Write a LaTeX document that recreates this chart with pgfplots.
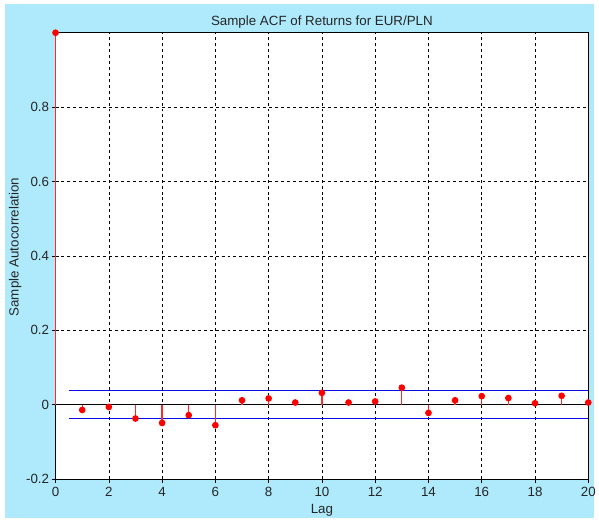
\documentclass[border=0pt]{standalone}
\usepackage{fontspec}
\setmainfont{Liberation Sans}
\usepackage{pgfplots}
\pgfplotsset{compat=1.18}
\definecolor{figbg}{RGB}{174,234,251}
\definecolor{boundblue}{RGB}{10,10,230}
\definecolor{ticktext}{RGB}{38,38,38}
\definecolor{stemred}{RGB}{255,40,40}

\pgfplotstableread{
lag acf
0 1.000
1 -0.014
2 -0.006
3 -0.037
4 -0.049
5 -0.028
6 -0.055
7 0.012
8 0.017
9 0.006
10 0.032
11 0.006
12 0.009
13 0.046
14 -0.022
15 0.012
16 0.023
17 0.018
18 0.004
19 0.024
20 0.006
}\acfdata

\pgfplotsset{acfbox/.style={
  at={(0,0)}, anchor=south west,
  scale only axis,
  width=537bp, height=450bp,
  xmin=0, xmax=20, ymin=-0.2, ymax=1,
}}

\begin{document}
\begin{tikzpicture}[x=1bp,y=1bp]
% figure background: white frame strip left/top, cyan figure colour
\fill[white] (-56,-39) rectangle (543,483);
\fill[figbg] (-51,-39) rectangle (543,479);
\begin{axis}[
  acfbox,
  xtick={0,2,...,20},
  ytick={-0.2,0,0.2,0.4,0.6,0.8},
  yticklabels={-0.2,0,0.2,0.4,0.6,0.8},
  /pgf/number format/assume math mode=true,
  tick label style={font=\fontsize{13.5}{15}\selectfont, text=ticktext},
  xticklabel style={yshift=-1bp},
  yticklabel style={xshift=1bp},
  grid=major,
  major grid style={black, line width=0.6pt, dash pattern=on 3pt off 3pt},
  axis line style={black, line width=0.8pt},
  tick style={black, line width=0.6pt},
  tick align=outside,
  major tick length=4bp,
  xtick pos=bottom, ytick pos=left,
  axis background/.style={fill=white},
  title={Sample ACF of Returns for EUR/PLN},
  title style={font=\fontsize{13.5}{15}\selectfont, text=ticktext, yshift=-5bp},
  xlabel={Lag},
  ylabel={Sample Autocorrelation},
  label style={font=\fontsize{13.5}{15}\selectfont, text=ticktext},
  ylabel style={yshift=-2bp, xshift=9bp},
]
  \addplot[black, line width=0.8pt] coordinates {(0,0) (20,0)};
\end{axis}
% bounds and stems on top of the axis box
\begin{axis}[acfbox, hide axis, clip=false]
  \addplot[color=boundblue, line width=1pt] coordinates {(0.5,0.037) (20,0.037)};
  \addplot[color=boundblue, line width=1pt] coordinates {(0.5,-0.037) (20,-0.037)};
  \addplot[color=stemred, ycomb, line width=1.3pt, mark=*, mark size=2.7pt,
    mark options={fill=red, draw=red}]
    table[x=lag, y=acf] {\acfdata};
\end{axis}
\useasboundingbox (-56,-39) rectangle (543,483);
\end{tikzpicture}
\end{document}
